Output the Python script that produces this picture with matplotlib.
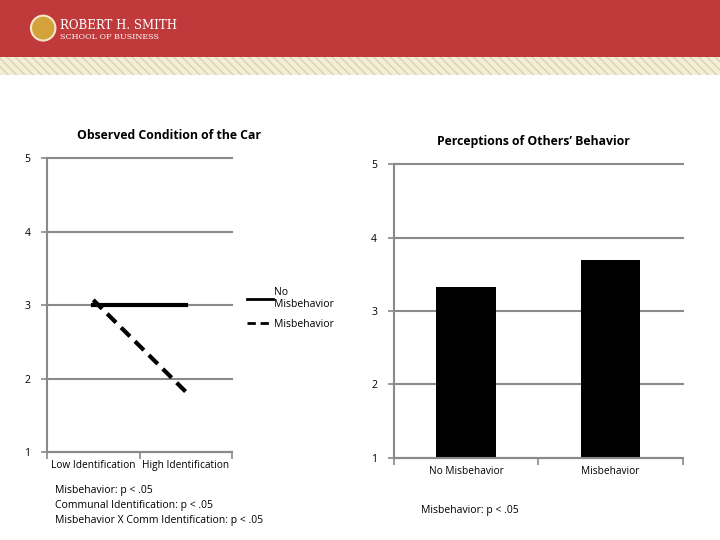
import matplotlib
matplotlib.use("Agg")
import matplotlib.pyplot as plt
from matplotlib.patches import Rectangle, Ellipse

plt.rcParams["font.family"] = ["Open Sans", "DejaVu Sans"]

# left chart: observed condition of the car
id_levels = ["Low Identification", "High Identification"]
no_misbehavior = [3.0, 3.0]
misbehavior = [3.07, 1.82]
left_stats = [
    "Misbehavior: p < .05",
    "Communal Identification: p < .05",
    "Misbehavior X Comm Identification: p < .05",
]

# right chart: perceptions of others' behavior
conditions = ["No Misbehavior", "Misbehavior"]
perceptions = [3.33, 3.69]
right_stats = ["Misbehavior: p < .05"]

y_ticks = [1, 2, 3, 4, 5]

GRID = "#8a8a8a"
RED = "#c0393b"


def style_axes(ax):
    ax.set_ylim(1, 5)
    ax.set_yticks(y_ticks)
    ax.yaxis.grid(True, color=GRID, linewidth=1.5)
    for gl in ax.get_ygridlines():
        gl.set_clip_on(False)
    ax.set_axisbelow(True)
    for side in ["top", "right"]:
        ax.spines[side].set_visible(False)
    for side in ["left", "bottom"]:
        ax.spines[side].set_color(GRID)
        ax.spines[side].set_linewidth(1.5)
    ax.tick_params(axis="y", length=4, width=1.2, color=GRID, labelsize=7.5, pad=8)
    ax.tick_params(axis="x", which="both", length=0, labelsize=7.3, pad=6)
    ax.tick_params(axis="x", which="minor", length=5, width=1.2, color=GRID)


fig = plt.figure(figsize=(7.2, 5.4), dpi=100)

# header band
fig.patches.append(Rectangle((0, 0.895), 1, 0.105, transform=fig.transFigure,
                             facecolor=RED, edgecolor="none"))
fig.patches.append(Rectangle((0, 0.862), 1, 0.033, transform=fig.transFigure,
                             facecolor="#f3eed6", edgecolor="#d9d2b0", hatch="\\\\\\\\",
                             linewidth=0))
fig.patches.append(Ellipse((0.06, 0.948), 0.034, 0.046, transform=fig.transFigure,
                           facecolor="#d4a23a", edgecolor="#f5e6c8", linewidth=1.5))
fig.text(0.084, 0.953, "ROBERT H. SMITH", color="white", fontsize=8.5,
         family="DejaVu Serif", va="center")
fig.text(0.084, 0.931, "SCHOOL OF BUSINESS", color="white", fontsize=5.8,
         family="DejaVu Serif", va="center")

# left chart
ax1 = fig.add_axes([0.0653, 0.163, 0.257, 0.544])
x = range(len(id_levels))
ax1.plot(x, no_misbehavior, color="black", linewidth=3, label="No\nMisbehavior")
ax1.plot(x, misbehavior, color="black", linewidth=3, dashes=(3, 1.7),
         label="Misbehavior")
ax1.set_xlim(-0.5, 1.5)
ax1.set_xticks(list(x))
ax1.set_xticklabels(id_levels)
ax1.set_xticks([-0.5, 0.5, 1.5], minor=True)
style_axes(ax1)
ax1.set_title("Observed Condition of the Car", fontsize=8.8, fontweight="bold",
              pad=14, x=0.66)
leg = ax1.legend(loc="center left", bbox_to_anchor=(1.08, 0.49), frameon=False,
                 fontsize=7.5, handlelength=2.5, handletextpad=0.1, labelspacing=0.8,
                 borderaxespad=0, borderpad=0)
for h in leg.get_lines():
    h.set_linewidth(2)
for i, line in enumerate(left_stats):
    fig.text(0.077, 0.092 - i * 0.028, line, fontsize=7.5, va="center")

# right chart
ax2 = fig.add_axes([0.547, 0.152, 0.401, 0.544])
ax2.bar(range(len(conditions)), [v - 1 for v in perceptions], width=0.41,
        bottom=1, color="black")
ax2.set_xlim(-0.5, 1.5)
ax2.set_xticks(range(len(conditions)))
ax2.set_xticklabels(conditions)
ax2.set_xticks([-0.5, 0.5, 1.5], minor=True)
style_axes(ax2)
ax2.set_title("Perceptions of Others\u2019 Behavior", fontsize=8.8, fontweight="bold",
              pad=14, x=0.484)
for i, line in enumerate(right_stats):
    fig.text(0.585, 0.055 - i * 0.028, line, fontsize=7.5, va="center")

fig.savefig("out.png", dpi=100)
